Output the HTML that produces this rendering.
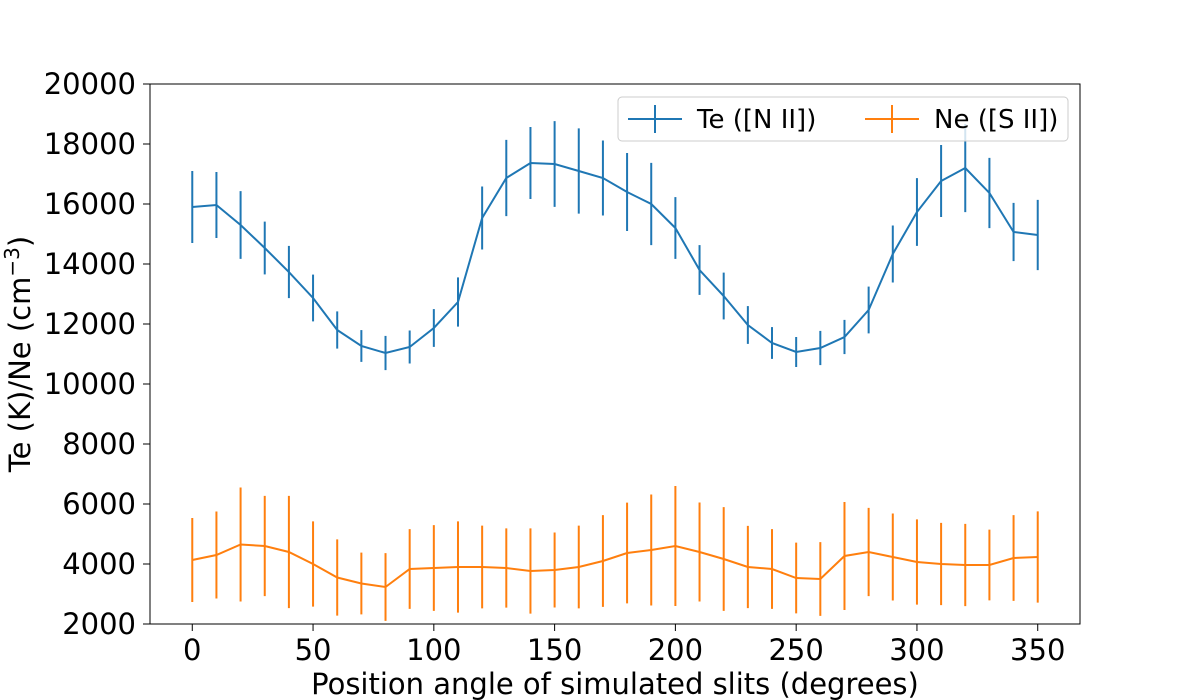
<!DOCTYPE html>
<html><head><meta charset="utf-8"><style>body{margin:0;background:#fff}svg{display:block;font-family:"DejaVu Sans","Liberation Sans",sans-serif}</style></head>
<body>
<svg id="chart" width="1200" height="700"></svg>
<script>
const angles=[0,10,20,30,40,50,60,70,80,90,100,110,120,130,140,150,160,170,180,190,200,210,220,230,240,250,260,270,280,290,300,310,320,330,340,350];
const teVals=[15900,15967,15300,14533,13733,12867,11800,11267,11033,11233,11867,12733,15533,16867,17367,17333,17100,16867,16400,16000,15200,13800,12933,11967,11367,11067,11200,11567,12467,14333,15733,16767,17200,16367,15067,14967];
const teErr=[1200,1100,1130,880,870,780,620,530,570,550,630,820,1050,1270,1200,1430,1420,1250,1300,1370,1030,830,780,630,530,500,570,570,780,950,1130,1200,1470,1170,970,1170];
const neVals=[4133,4300,4650,4600,4400,4000,3550,3350,3233,3833,3867,3900,3900,3867,3767,3800,3900,4100,4367,4467,4600,4400,4167,3900,3833,3533,3500,4267,4400,4233,4067,4000,3967,3967,4200,4233];
const neErr=[1400,1450,1900,1670,1870,1420,1270,1030,1130,1330,1430,1520,1380,1320,1420,1250,1380,1530,1680,1850,2000,1650,1730,1370,1330,1180,1230,1800,1470,1450,1420,1370,1370,1180,1430,1520];
const xTicks=[0,50,100,150,200,250,300,350];
const yTicks=[2000,4000,6000,8000,10000,12000,14000,16000,18000,20000];
const L=150,R=1080,T=84,B=624;
const xs=v=>L+(v+17.5)/385*(R-L);
const ys=v=>B-(v-2000)/18000*(B-T);
const svg=document.getElementById('chart');const NS='http://www.w3.org/2000/svg';
function mk(tag,a,txt){const e=document.createElementNS(NS,tag);for(const k in a)e.setAttribute(k,a[k]);if(txt!==undefined)e.textContent=txt;svg.appendChild(e);return e;}
function series(vals,errs,color,name){
  vals.forEach((v,i)=>{const e=mk('line',{x1:xs(angles[i]),x2:xs(angles[i]),y1:ys(v-errs[i]),y2:ys(v+errs[i]),stroke:color,'stroke-width':2});
  
  });
  const p=mk('polyline',{points:vals.map((v,i)=>xs(angles[i])+','+ys(v)).join(' '),fill:'none',stroke:color,'stroke-width':2});
  
  
}
series(teVals,teErr,'#1f77b4','te');
series(neVals,neErr,'#ff7f0e','ne');
const fr=mk('rect',{x:L,y:T,width:R-L,height:B-T,fill:'none',stroke:'#000','stroke-width':1});


xTicks.forEach(t=>{mk('line',{x1:xs(t),x2:xs(t),y1:B,y2:B+7,stroke:'#000'});
  const e=mk('text',{x:xs(t),y:B+36,'text-anchor':'middle','font-size':29},t);
  
  });
yTicks.forEach(t=>{mk('line',{x1:L-7,x2:L,y1:ys(t),y2:ys(t),stroke:'#000'});
  const e=mk('text',{x:L-14,y:ys(t)+10,'text-anchor':'end','font-size':29},t);
  
  });
const xt=mk('text',{x:615,y:694,'text-anchor':'middle','font-size':29},'Position angle of simulated slits (degrees)');


const yt=mk('text',{transform:'translate(30,354) rotate(-90)','text-anchor':'middle','font-size':29});


yt.innerHTML='Te (K)/Ne (cm<tspan dy="-11" font-size="20">−3</tspan><tspan dy="11">)</tspan>';
const lg=mk('rect',{x:618,y:97,width:450,height:44,rx:4,fill:'#fff',stroke:'#ccc','fill-opacity':0.8});


[[628,'#1f77b4','Te ([N II])'],[865,'#ff7f0e','Ne ([S II])']].forEach(([x,c,l])=>{
  mk('line',{x1:x,x2:x+54,y1:119,y2:119,stroke:c,'stroke-width':2});
  mk('line',{x1:x+27,x2:x+27,y1:105,y2:133,stroke:c,'stroke-width':2});
  const e=mk('text',{x:x+69,y:128,'font-size':26},l);
  
  });
</script>
</body></html>
